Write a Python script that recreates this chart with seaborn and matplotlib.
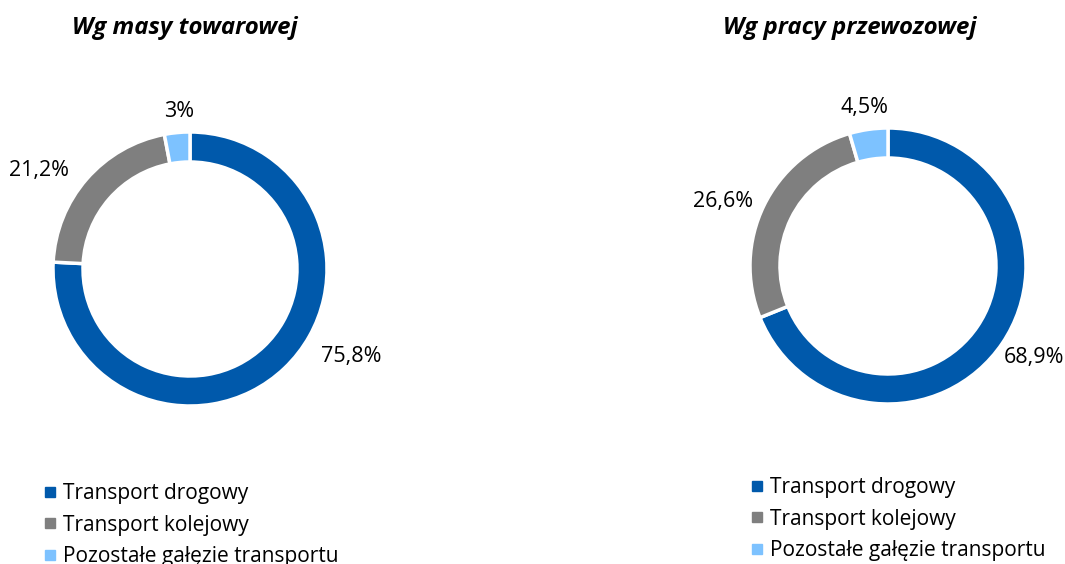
import matplotlib
matplotlib.use("Agg")
import matplotlib.pyplot as plt
from matplotlib.lines import Line2D
import numpy as np
import seaborn as sns

# ---- data ----
categories = ["Transport drogowy", "Transport kolejowy", "Pozostałe gałęzie transportu"]
mass_values = [75.8, 21.2, 3.0]
work_values = [68.9, 26.6, 4.5]
mass_labels = ["75,8%", "21,2%", "3%"]
work_labels = ["68,9%", "26,6%", "4,5%"]
titles = ["Wg masy towarowej", "Wg pracy przewozowej"]

sns.set_theme(style="white")
plt.rcParams['font.family'] = ['Open Sans', 'DejaVu Sans']
palette = sns.color_palette(["#0059AB", "#7F7F7F", "#7DC2FF"])

W, H = 1065, 564
fig = plt.figure(figsize=(W / 100, H / 100), dpi=100)
fig.patch.set_facecolor("white")

# layout (pixels): center x, center y, radius, label (angle, radius factor)
layouts = [
    dict(cx=190, cy=269, r=137, lab=[(-28.4, 1.34), (146.9, 1.32), (94, 1.155)],
         title_x=185, leg=(43, 483)),
    dict(cx=888, cy=266, r=138, lab=[(-32, 1.25), (158.7, 1.28), (98.3, 1.16)],
         title_x=850, leg=(750, 477)),
]

for vals, labs, title, L in zip([mass_values, work_values], [mass_labels, work_labels], titles, layouts):
    ax = fig.add_axes([(L["cx"] - L["r"]) / W, (H - L["cy"] - L["r"]) / H, 2 * L["r"] / W, 2 * L["r"] / H])
    wedges, _ = ax.pie(vals, colors=palette, startangle=90, counterclock=False, radius=1,
                       wedgeprops=dict(width=30 / L["r"], edgecolor="white", linewidth=2.5))
    ax.set_xlim(-1, 1)
    ax.set_ylim(-1, 1)
    ax.set_aspect("equal")
    ax.axis("off")
    for t, (ang, rf) in zip(labs, L["lab"]):
        a = np.deg2rad(ang)
        ax.text(rf * np.cos(a), rf * np.sin(a), t, ha="center", va="center",
                fontsize=15.5, color="#000000", clip_on=False)
    fig.text(L["title_x"] / W, 1 - 28 / H, title, ha="center", va="center",
             fontsize=17.3, fontweight="bold", fontstyle="italic", color="#000000")
    handles = [Line2D([0], [0], marker="s", linestyle="none", markersize=7,
                      markerfacecolor=c, markeredgecolor=c) for c in palette]
    fig.legend(handles, categories, loc="upper left",
               bbox_to_anchor=(L["leg"][0] / W, 1 - L["leg"][1] / H),
               frameon=False, fontsize=15, handlelength=0.65, handletextpad=0.3,
               labelspacing=0.51, borderpad=0, borderaxespad=0, labelcolor="#000000")

fig.savefig("out.png", dpi=100, facecolor="white")
